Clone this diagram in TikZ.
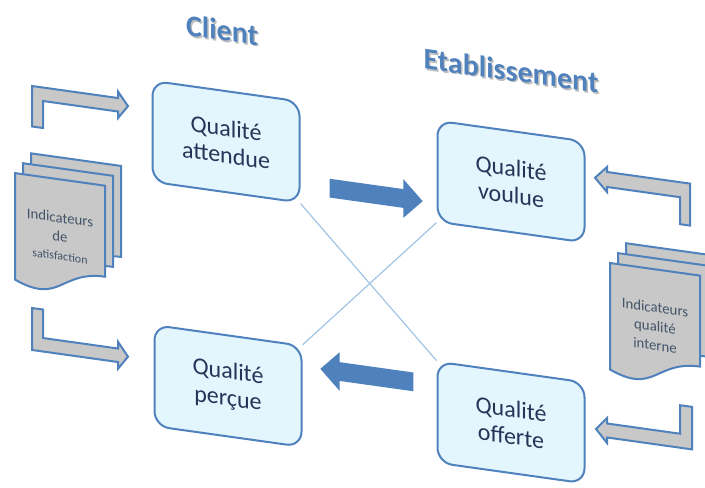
\documentclass[tikz,border=0pt]{standalone}
\usepackage{fontspec}
\setmainfont{Carlito}
\usetikzlibrary{shapes.arrows}

\definecolor{boxline}{RGB}{79,129,189}
\definecolor{boxfill}{RGB}{227,245,253}
\definecolor{boxtext}{RGB}{38,52,88}
\definecolor{doctextcol}{RGB}{68,84,106}
\definecolor{docgray}{RGB}{200,200,200}
\definecolor{crossblue}{RGB}{160,196,230}

\tikzset{
  qualbox/.style={draw=boxline, line width=1pt, fill=boxfill, rounded corners=7.5pt,
    minimum width=73.5pt, minimum height=50.5pt, align=center, text=boxtext,
    font=\fontsize{12}{13.5}\selectfont},
  title/.style={font=\bfseries\fontsize{15}{18}\selectfont, text=boxline},
  titleshade/.style={title, text=black!25},
  blockarrow/.style={single arrow, fill=boxline, inner sep=0pt, inner ysep=4.5pt,
    single arrow head extend=5pt, minimum height=46.5pt},
  crossline/.style={draw=crossblue, line width=0.6pt},
  bentarrow/.style={draw=boxline, line width=1pt, fill=docgray},
  docpage/.style={draw=boxline, line width=1pt, fill=docgray},
  doctext/.style={align=center, text=doctextcol, font=\fontsize{7.4}{9.4}\selectfont},
  pics/docstack/.style={code={
    \foreach \d in {2,1,0}
      \draw[docpage, shift={(8*\d,-11*\d)}] (0,0) -- (90,0) -- (90,91)
        .. controls (45,91) and (45,126) .. (0,106.5) -- cycle;
    \node[doctext] (-label) at (45,57) {#1};
  }}
}

\begin{document}
\begin{tikzpicture}[x=0.5pt, y=-0.5pt]
  \useasboundingbox (0,0) rectangle (705,487);

  \begin{scope}[yslant=-0.14, transform shape]
    % titres
    \node[titleshade] (client-shade) at (223.5,0.5) {Client};
    \node[title] (client) at (222,-1) {Client};
    \node[titleshade] (etab-shade) at (512.5,0.5) {Etablissement};
    \node[title] (etab) at (511,-1) {Etablissement};

    % les quatre qualites
    \node[qualbox] (attendue) at (226,110) {Qualité\\attendue};
    \node[qualbox] (voulue) at (511,110) {Qualité\\voulue};
    \node[qualbox] (percue) at (228,354) {Qualité\\perçue};
    \node[qualbox] (offerte) at (511,351) {Qualité\\offerte};

    \draw[crossline] (attendue.south east) -- (offerte.north west);
    \draw[crossline] (voulue.south west) -- (percue.north east);

    \node[blockarrow] (versvoulue) at (371.5,142) {};
    \node[blockarrow, shape border rotate=180] (verspercue) at (371.5,324) {};

    % indicateurs
    \pic (satis) at (15,171) {docstack={Indicateurs\\de\\{\fontsize{6}{7.5}\selectfont satisfaction}}};
    \pic (interne) at (610,177.6) {docstack={Indicateurs\\qualité\\interne}};

    % fleches coudees
    \draw[bentarrow] (32,122) -- (32,81.5) -- (118,81.5) -- (118,75) -- (128,88.25)
      -- (118,101.5) -- (118,95) -- (43,95) -- (43,122) -- cycle;
    \draw[bentarrow] (32,303.5) -- (32,345.5) -- (118,345.5) -- (118,352.25) -- (128,338.75)
      -- (118,325.25) -- (118,332) -- (43,332) -- (43,303.5) -- cycle;
    \draw[bentarrow] (690,129) -- (690,87) -- (607,87) -- (607,82) -- (595,94.5)
      -- (607,107) -- (607,102) -- (680,102) -- (680,129) -- cycle;
    \draw[bentarrow] (692,310) -- (692,352.5) -- (607,352.5) -- (607,358) -- (596,345.5)
      -- (607,333) -- (607,338.5) -- (680,338.5) -- (680,310) -- cycle;
  \end{scope}
\end{tikzpicture}
\end{document}
